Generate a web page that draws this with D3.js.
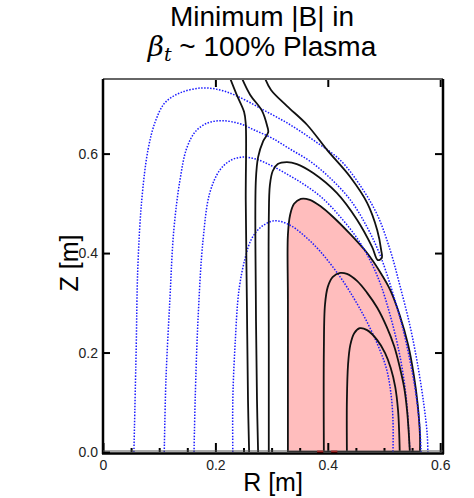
<!DOCTYPE html>
<html>
<head>
<meta charset="utf-8">
<script src="https://cdn.jsdelivr.net/npm/d3@7"></script>
<style>
  body { margin: 0; background: #fff; }
  text { font-family: "Liberation Sans", Arial, sans-serif; }
</style>
</head>
<body>
<div id="chart"></div>
<script>
// contours, [R, Z] in metres
// blue dotted flux surfaces, outermost first
const flux1 = [[0.055,0],[0.059,0.205],[0.062,0.372],[0.069,0.507],[0.080,0.607],[0.093,0.664],[0.110,0.702],[0.137,0.722],[0.176,0.732],[0.208,0.728],[0.238,0.716],[0.285,0.688],[0.333,0.658],[0.377,0.625],[0.422,0.587],[0.457,0.537],[0.488,0.477],[0.511,0.406],[0.528,0.336],[0.546,0.255],[0.560,0.175],[0.571,0.095],[0.577,0.034],[0.578,0]];
const flux2 = [[0.109,0],[0.112,0.145],[0.119,0.306],[0.126,0.446],[0.137,0.547],[0.149,0.611],[0.165,0.645],[0.187,0.662],[0.214,0.666],[0.244,0.660],[0.270,0.647],[0.301,0.631],[0.333,0.609],[0.368,0.585],[0.404,0.551],[0.440,0.507],[0.470,0.452],[0.493,0.396],[0.514,0.326],[0.532,0.255],[0.546,0.185],[0.557,0.115],[0.564,0.044],[0.566,0]];
const flux3 = [[0.162,0],[0.164,0.105],[0.169,0.265],[0.178,0.426],[0.190,0.521],[0.208,0.567],[0.228,0.587],[0.249,0.593],[0.272,0.589],[0.301,0.575],[0.333,0.555],[0.359,0.537],[0.390,0.511],[0.422,0.473],[0.452,0.430],[0.475,0.386],[0.493,0.340],[0.511,0.275],[0.528,0.195],[0.539,0.115],[0.544,0.044],[0.546,0]];
const flux4 = [[0.231,0],[0.231,0.105],[0.235,0.215],[0.242,0.326],[0.253,0.390],[0.265,0.430],[0.283,0.454],[0.306,0.465],[0.333,0.456],[0.359,0.434],[0.386,0.404],[0.422,0.352],[0.448,0.306],[0.470,0.261],[0.489,0.215],[0.504,0.169],[0.512,0.121],[0.516,0.064],[0.516,0]];

// black |B| contours
const bCont1 = [[0.226,0.752],[0.238,0.718],[0.251,0.684],[0.254,0.660],[0.254,0.507],[0.256,0.306],[0.258,0.105],[0.260,0]];
const bCont2 = [[0.247,0.752],[0.262,0.718],[0.283,0.686],[0.292,0.656],[0.294,0.643],[0.285,0.625],[0.276,0.593],[0.272,0.547],[0.272,0.306],[0.274,0.105],[0.276,0]];
const bCont3 = [[0.288,0.752],[0.299,0.728],[0.327,0.696],[0.363,0.658],[0.399,0.607],[0.440,0.553],[0.470,0.501],[0.488,0.446],[0.495,0.406],[0.496,0.390],[0.489,0.386],[0.479,0.412],[0.452,0.467],[0.416,0.521],[0.374,0.561],[0.345,0.579],[0.327,0.583],[0.311,0.579],[0.302,0.565],[0.297,0.537],[0.295,0.467],[0.295,0.205],[0.295,0]];
const bCont5 = [[0.393,0],[0.393,0.205],[0.395,0.296],[0.400,0.332],[0.409,0.352],[0.422,0.360],[0.434,0.358],[0.452,0.344],[0.470,0.320],[0.488,0.290],[0.505,0.251],[0.518,0.213],[0.528,0.171],[0.536,0.129],[0.541,0.084],[0.544,0.040],[0.546,0]];
const bCont6 = [[0.434,0],[0.434,0.105],[0.436,0.175],[0.440,0.215],[0.447,0.239],[0.457,0.249],[0.470,0.245],[0.488,0.225],[0.502,0.199],[0.512,0.169],[0.520,0.131],[0.525,0.084],[0.527,0.040],[0.528,0]];

// shaded minimum-|B| region (also outlined)
const minBRegion = [[0.329,0],[0.329,0.306],[0.329,0.436],[0.333,0.477],[0.340,0.499],[0.352,0.509],[0.368,0.507],[0.386,0.495],[0.409,0.473],[0.440,0.438],[0.470,0.400],[0.493,0.362],[0.511,0.326],[0.528,0.275],[0.543,0.215],[0.553,0.155],[0.560,0.095],[0.564,0.034],[0.564,0]];

// red marks on the midplane, [R start, R end]
const redMarks = [[0.381, 0.392], [0.406, 0.417]];

const xTicks = [0, 0.2, 0.4, 0.6];
const xTickLabels = ["0", "0.2", "0.4", "0.6"];
const xMinorTicks = [0.05, 0.1, 0.15, 0.25, 0.3, 0.35, 0.45, 0.5, 0.55];
const yTicks = [0, 0.2, 0.4, 0.6];
const yTickLabels = ["0.0", "0.2", "0.4", "0.6"];

const width = 474, height = 498;

const svg = d3.select("#chart")
  .append("svg")
  .attr("width", width)
  .attr("height", height);

const x = d3.scaleLinear().domain([0, 0.605]).range([103, 443]);
const y = d3.scaleLinear().domain([0, 0.75]).range([452, 79]);

svg.append("defs").append("clipPath")
  .attr("id", "plotClip")
  .append("rect")
  .attr("x", x(0)).attr("y", y(0.75))
  .attr("width", x(0.605) - x(0))
  .attr("height", y(0) - y(0.75));

const line = d3.line()
  .x(d => x(d[0]))
  .y(d => y(d[1]))
  .curve(d3.curveCatmullRom.alpha(0.5));

const plot = svg.append("g").attr("clip-path", "url(#plotClip)");

// pink region
plot.append("path")
  .attr("d", line(minBRegion) + "Z")
  .attr("fill", "#ffbdbd")
  .attr("stroke", "#111")
  .attr("stroke-width", 1.8);

// blue flux surfaces
plot.selectAll(".flux")
  .data([flux1, flux2, flux3, flux4])
  .enter().append("path")
  .attr("class", "flux")
  .attr("d", line)
  .attr("fill", "none")
  .attr("stroke", "#1a1aff")
  .attr("stroke-width", 1.5)
  .attr("stroke-dasharray", "1.5,1.5");

// black contours
plot.selectAll(".bcont")
  .data([bCont1, bCont2, bCont3, bCont5, bCont6])
  .enter().append("path")
  .attr("class", "bcont")
  .attr("d", line)
  .attr("fill", "none")
  .attr("stroke", "#111")
  .attr("stroke-width", 1.8);

// axes: ticks point inward
const tickStyle = g => {
  g.select(".domain").remove();
  g.selectAll(".tick line").attr("stroke", "#000").attr("stroke-width", 2);
  g.selectAll(".tick text")
    .attr("fill", "#222")
    .style("font-family", "'Liberation Sans', Arial, sans-serif")
    .style("font-size", "14px");
};

svg.append("g")
  .attr("transform", `translate(0,${y(0)})`)
  .call(d3.axisBottom(x).tickValues(xMinorTicks).tickSize(-4).tickFormat(""))
  .call(tickStyle);

svg.append("g")
  .attr("transform", `translate(0,${y(0)})`)
  .call(d3.axisBottom(x).tickValues(xTicks).tickSize(-9).tickPadding(8)
    .tickFormat((d, i) => xTickLabels[i]))
  .call(tickStyle);

svg.append("g")
  .attr("transform", `translate(0,${y(0.75)})`)
  .call(d3.axisTop(x).tickValues(xTicks.slice(1)).tickSize(-8).tickFormat(""))
  .call(tickStyle);

svg.append("g")
  .attr("transform", `translate(${x(0)},0)`)
  .call(d3.axisLeft(y).tickValues(yTicks).tickSize(-7).tickPadding(5)
    .tickFormat((d, i) => yTickLabels[i]))
  .call(tickStyle);

svg.append("g")
  .attr("transform", `translate(${x(0.605)},0)`)
  .call(d3.axisRight(y).tickValues(yTicks.slice(1)).tickSize(-8).tickFormat(""))
  .call(tickStyle);

// red marks
svg.selectAll(".redmark")
  .data(redMarks)
  .enter().append("line")
  .attr("x1", d => x(d[0])).attr("x2", d => x(d[1]))
  .attr("y1", y(0)).attr("y2", y(0))
  .attr("stroke", "#ee0000")
  .attr("stroke-width", 3);

// frame
const frame = svg.append("g");
frame.append("line")
  .attr("x1", x(0)).attr("x2", x(0.605)).attr("y1", y(0.75)).attr("y2", y(0.75))
  .attr("stroke", "#666").attr("stroke-width", 2);
frame.append("line")
  .attr("x1", x(0.605)).attr("x2", x(0.605)).attr("y1", y(0.75)).attr("y2", y(0) + 2)
  .attr("stroke", "#000").attr("stroke-width", 2.5);
frame.append("line")
  .attr("x1", x(0)).attr("x2", x(0)).attr("y1", y(0.75)).attr("y2", y(0) + 2)
  .attr("stroke", "#000").attr("stroke-width", 2.5);
frame.append("line")
  .attr("x1", x(0)).attr("x2", x(0.605)).attr("y1", y(0) - 1).attr("y2", y(0) - 1)
  .attr("stroke", "#555").attr("stroke-width", 1);
frame.append("line")
  .attr("x1", x(0) - 1).attr("x2", x(0.605) + 1).attr("y1", y(0) + 1.5).attr("y2", y(0) + 1.5)
  .attr("stroke", "#000").attr("stroke-width", 2.5);

// axis titles
svg.append("text")
  .attr("x", (x(0) + x(0.605)) / 2)
  .attr("y", 491)
  .attr("text-anchor", "middle")
  .style("font-size", "25px")
  .text("R [m]");

svg.append("text")
  .attr("transform", "translate(78,263) rotate(-90)")
  .attr("text-anchor", "middle")
  .style("font-size", "25px")
  .text("Z [m]");

// title
svg.append("text")
  .attr("x", 262).attr("y", 26)
  .attr("text-anchor", "middle")
  .style("font-size", "28px")
  .text("Minimum |B| in");

const t2 = svg.append("text")
  .attr("x", 262).attr("y", 56)
  .attr("text-anchor", "middle")
  .style("font-size", "28px");
t2.append("tspan")
  .style("font-family", "'DejaVu Serif', serif")
  .style("font-style", "italic")
  .text("β");
t2.append("tspan")
  .attr("dy", 5)
  .style("font-family", "'DejaVu Serif', serif")
  .style("font-style", "italic")
  .style("font-size", "19px")
  .text("t");
t2.append("tspan")
  .attr("dy", -5)
  .text(" ~ 100% Plasma");
</script>
</body>
</html>
